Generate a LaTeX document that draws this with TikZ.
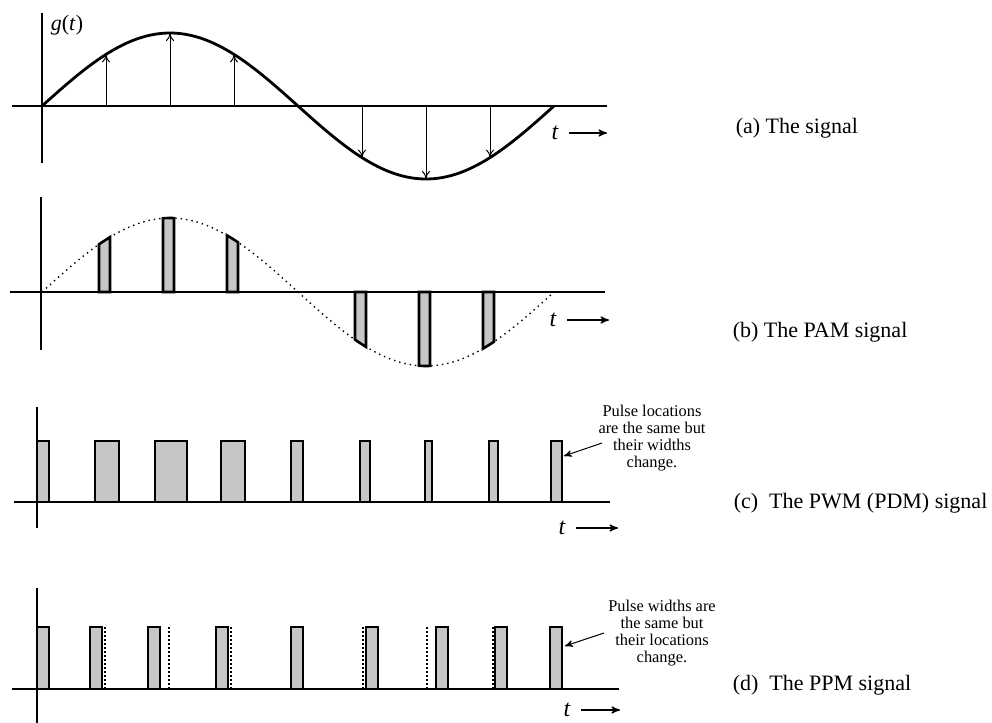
\documentclass[tikz,border=0pt]{standalone}
\usepackage{fontspec}
\setmainfont{Liberation Serif}
\usepackage{tikz}
\usetikzlibrary{arrows, arrows.meta, positioning, calc}

\begin{document}
\begin{tikzpicture}[x=0.5pt, y=-0.5pt, >=stealth', thick]
        \tikzstyle{axis} = [line width=0.8pt]
        \tikzstyle{wave} = [line width=1.4pt]
        \tikzstyle{sample} = [-{To[length=4pt, width=4pt]}, line width=0.5pt]
        \tikzstyle{pulse} = [draw, line width=1.3pt, fill=gray!45]
        \tikzstyle{marker} = [dash pattern=on 0.8pt off 1.2pt, line width=0.7pt]
        \tikzstyle{caption} = [anchor=west, inner sep=0pt, font=\fontsize{11}{13}\selectfont]
        \tikzstyle{note} = [align=center, inner sep=0pt, font=\fontsize{8.2}{8.5}\selectfont]
        \tikzstyle{tvar} = [inner sep=1pt, font=\fontsize{12}{14}\selectfont\itshape]
        \tikzstyle{taxis} = [->, shorten <=4pt, line width=0.6pt]
        \tikzstyle{pointer} = [->, >=stealth', line width=0.5pt]

        \useasboundingbox (0,0) rectangle (992,723);

        % (a) Semnalul
        \draw[axis] (42,13) -- (42,163);
        \draw[axis] (12,106) -- (607,106);
        \draw[wave] plot[domain=42:554, samples=120] (\x,{106-73*sin(0.703125*(\x-42))});
        \foreach \k in {1,2,3,5,6,7} {
            \pgfmathsetmacro\s{42+64*\k}
            \draw[sample] (\s,106) -- (\s,{106-73*sin(0.703125*(\s-42))});
        }
        \node[tvar, font=\fontsize{11}{13}\selectfont] (gA) at (67,25) {\textit{g}(\textit{t})};
        \node[tvar] (tA) at (555,133) {t};
        \coordinate (tAend) at (607,133);
        \draw[taxis] (tA) -- (tAend);
        \node[caption] (capA) at (735,128) {(a) The signal};

        % (b) PAM
        \draw[axis] (41,197) -- (41,350);
        \draw[axis] (10,292) -- (605,292);
        \draw[dotted, line width=0.7pt] plot[domain=42:554, samples=120] (\x,{292-74*sin(0.703125*(\x-42))});
        \foreach \k in {1,2,3,5,6,7} {
            \pgfmathsetmacro\a{42+64*\k-7}
            \pgfmathsetmacro\b{42+64*\k+4}
            \draw[pulse] (\a,292) -- plot[domain=\a:\b, samples=8] (\x,{292-74*sin(0.703125*(\x-42))}) -- (\b,292) -- cycle;
        }
        \node[tvar] (tB) at (553,320) {t};
        \coordinate (tBend) at (609,320);
        \draw[taxis] (tB) -- (tBend);
        \node[caption] (capB) at (732,332) {(b) The PAM signal};

        % (c) PWM (PDM)
        \draw[axis] (37,407) -- (37,528);
        \draw[axis] (14,502) -- (610,502);
        \foreach \a/\b in {37/49, 95/119, 155/187, 221/245, 291/303, 360/370, 425/432, 489/498, 551/562} {
            \draw[pulse] (\a,441) rectangle (\b,502);
        }
        \node[tvar] (tC) at (562,528) {t};
        \coordinate (tCend) at (618,528);
        \draw[taxis] (tC) -- (tCend);
        \node[note] (noteC) at (652,438) {Pulse locations\\are the same but\\their widths\\change.};
        \coordinate (tailC) at (602,443);
        \coordinate (tipC) at (564,456);
        \draw[pointer] (tailC) -- (tipC);
        \node[caption] (capC) at (733,503) {(c)~ The PWM (PDM) signal};

        % (d) PPM
        \draw[axis] (37,588) -- (37,723);
        \draw[axis] (12,689) -- (619,689);
        \foreach \x in {105, 169, 231, 363, 427, 493} {
            \draw[marker] (\x,627) -- (\x,689);
        }
        \foreach \a in {37, 90, 148, 216, 291, 366, 436, 495, 550} {
            \draw[pulse] (\a,627) rectangle (\a+12,689);
        }
        \node[tvar] (tD) at (567,710) {t};
        \coordinate (tDend) at (620,710);
        \draw[taxis] (tD) -- (tDend);
        \node[note] (noteD) at (662,633) {Pulse widths are\\the same but\\their locations\\change.};
        \coordinate (tailD) at (604,633);
        \coordinate (tipD) at (565,646);
        \draw[pointer] (tailD) -- (tipD);
        \node[caption] (capD) at (732,685) {(d)~ The PPM signal};

    \end{tikzpicture}
\end{document}
